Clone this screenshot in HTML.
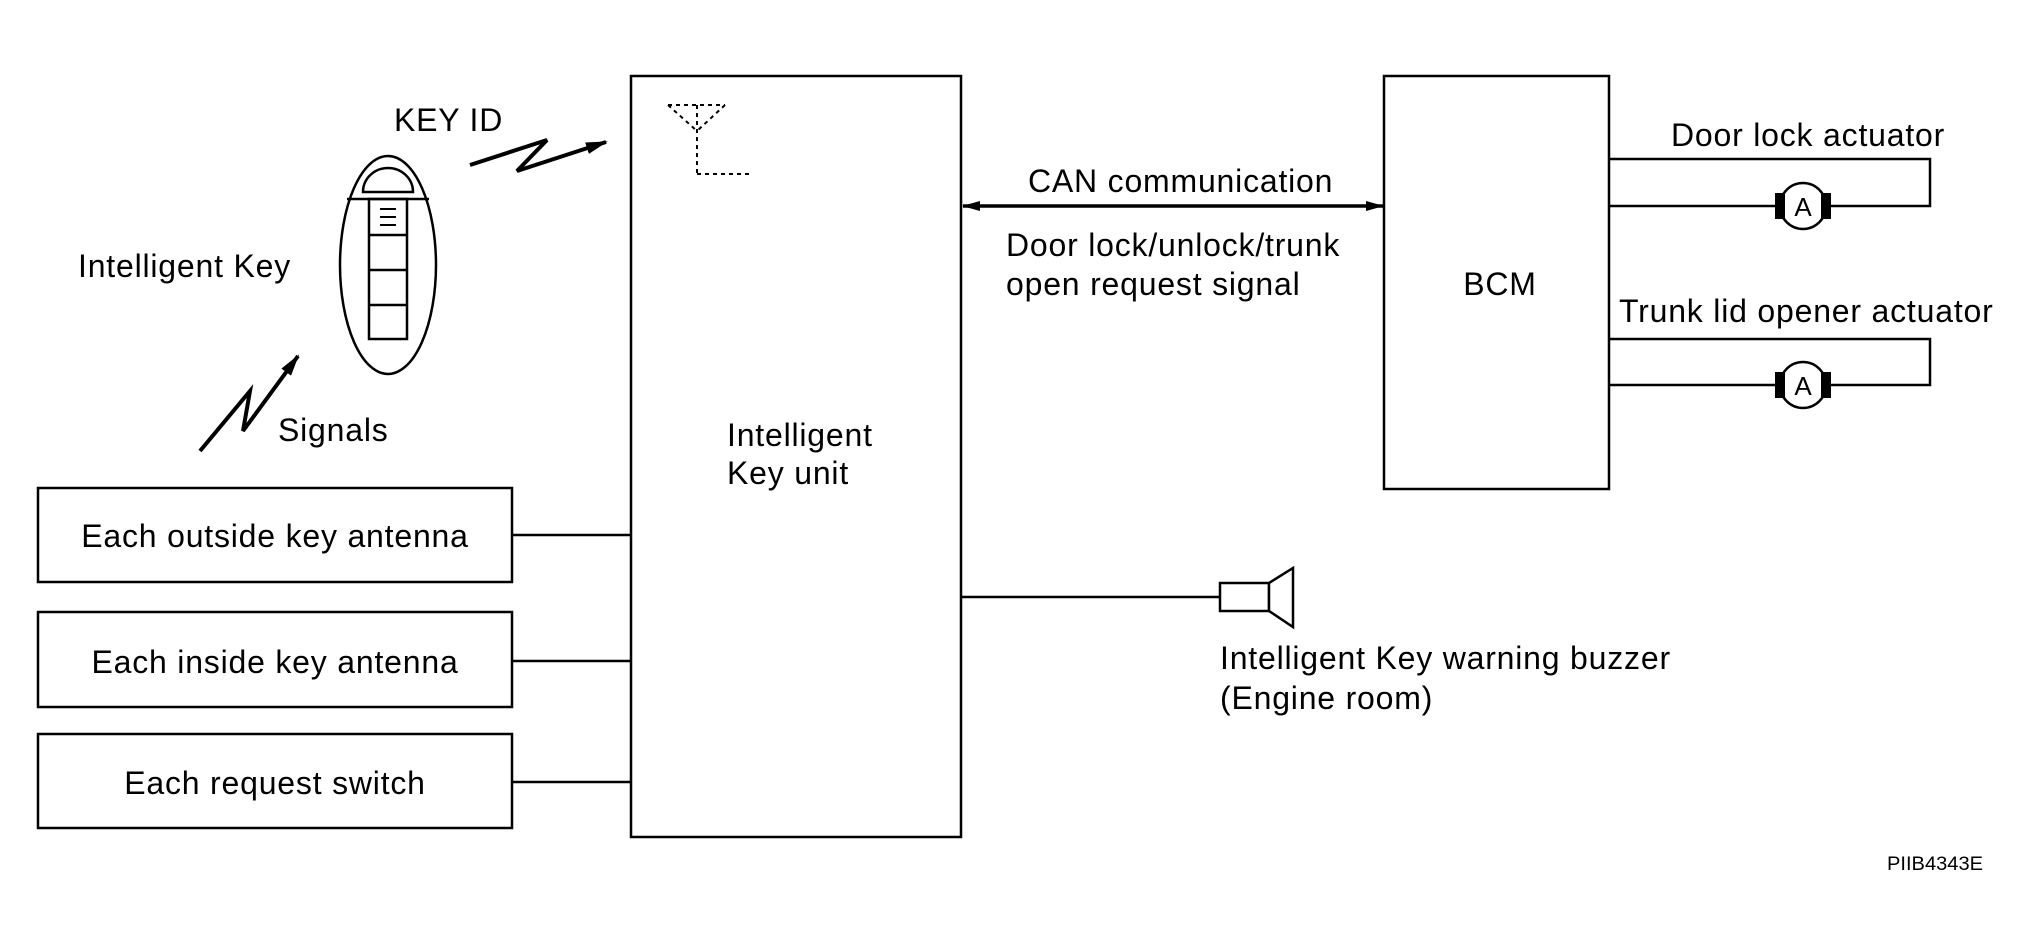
<!DOCTYPE html>
<html><head><meta charset="utf-8"><style>
html,body{margin:0;padding:0;background:#fff;}
svg{display:block;}
text{font-family:"Liberation Sans",sans-serif;font-size:32px;fill:#000;letter-spacing:0.8px;}
</style></head><body>
<svg width="2040" height="945" viewBox="0 0 2040 945" xmlns="http://www.w3.org/2000/svg">
<defs>
<marker id="ah" markerWidth="18" markerHeight="10" refX="17" refY="5" orient="auto-start-reverse" markerUnits="userSpaceOnUse">
<path d="M0,0 L18,5 L0,10 Z" fill="#000"/></marker>
<marker id="ah2" markerWidth="22" markerHeight="12" refX="20" refY="6" orient="auto" markerUnits="userSpaceOnUse">
<path d="M0,0 L22,6 L0,12 Z" fill="#000"/></marker>
</defs>
<g fill="none" stroke="#000" stroke-width="2.5">
<rect x="631" y="76" width="330" height="761"/>
<rect x="38" y="488" width="474" height="94"/>
<rect x="38" y="612" width="474" height="95"/>
<rect x="38" y="734" width="474" height="94"/>
<line x1="512" y1="535" x2="631" y2="535"/>
<line x1="512" y1="661" x2="631" y2="661"/>
<line x1="512" y1="782" x2="631" y2="782"/>
<rect x="1384" y="76" width="225" height="413"/>
<polyline points="1609,159 1930,159 1930,206 1609,206"/>
<polyline points="1609,339 1930,339 1930,385 1609,385"/>
<circle cx="1803" cy="206" r="23" fill="#fff"/>
<circle cx="1803" cy="385" r="23" fill="#fff"/>
<line x1="961" y1="597" x2="1220" y2="597"/>
<rect x="1220" y="583" width="49" height="28" fill="#fff"/>
<polygon points="1269,583 1293,568 1293,627 1269,611" fill="#fff"/>
<ellipse cx="388" cy="265" rx="48" ry="109"/>
<line x1="347" y1="199" x2="429" y2="199"/>
<path d="M363,192 A25,24 0 0 1 413,192 Z"/>
<rect x="369" y="199" width="38" height="140"/>
<line x1="369" y1="235" x2="407" y2="235"/>
<line x1="369" y1="270" x2="407" y2="270"/>
<line x1="369" y1="305" x2="407" y2="305"/>
<line x1="380" y1="209" x2="396" y2="209" stroke-width="2"/>
<line x1="380" y1="217" x2="396" y2="217" stroke-width="2"/>
<line x1="380" y1="225" x2="396" y2="225" stroke-width="2"/>
<g stroke-dasharray="4,4" stroke-width="2">
<line x1="668" y1="105" x2="725" y2="105"/>
<line x1="668" y1="105" x2="697" y2="131"/>
<line x1="725" y1="105" x2="697" y2="131"/>
<line x1="697" y1="105" x2="697" y2="174"/>
<line x1="697" y1="174" x2="750" y2="174"/>
</g>
<polyline points="470,165 547,140 517,171 606,142" stroke-width="4" marker-end="url(#ah2)"/>
<polyline points="200,451 250,391 243,431 298,356" stroke-width="4" marker-end="url(#ah2)"/>
<line x1="963" y1="206" x2="1383" y2="206" stroke-width="3.5" marker-start="url(#ah)" marker-end="url(#ah)"/>
</g>
<g fill="#000">
<rect x="1775" y="193" width="10" height="26"/><rect x="1821" y="193" width="10" height="26"/>
<rect x="1775" y="372" width="10" height="26"/><rect x="1821" y="372" width="10" height="26"/>
</g>
<text x="1803" y="216" text-anchor="middle" style="font-size:26px;letter-spacing:0">A</text>
<text x="1803" y="395" text-anchor="middle" style="font-size:26px;letter-spacing:0">A</text>
<text x="275" y="547" text-anchor="middle">Each outside key antenna</text>
<text x="275" y="673" text-anchor="middle">Each inside key antenna</text>
<text x="275" y="794" text-anchor="middle">Each request switch</text>
<text x="394" y="131">KEY ID</text>
<text x="78" y="277">Intelligent Key</text>
<text x="278" y="441">Signals</text>
<text x="727" y="446">Intelligent</text>
<text x="727" y="484">Key unit</text>
<text x="1028" y="192">CAN communication</text>
<text x="1006" y="256">Door lock/unlock/trunk</text>
<text x="1006" y="295">open request signal</text>
<text x="1500" y="295" text-anchor="middle">BCM</text>
<text x="1671" y="146">Door lock actuator</text>
<text x="1619" y="322">Trunk lid opener actuator</text>
<text x="1220" y="669">Intelligent Key warning buzzer</text>
<text x="1220" y="709">(Engine room)</text>
<text x="1887" y="870" textLength="96" lengthAdjust="spacingAndGlyphs" style="font-size:19px;letter-spacing:0">PIIB4343E</text>
</svg>
</body></html>
